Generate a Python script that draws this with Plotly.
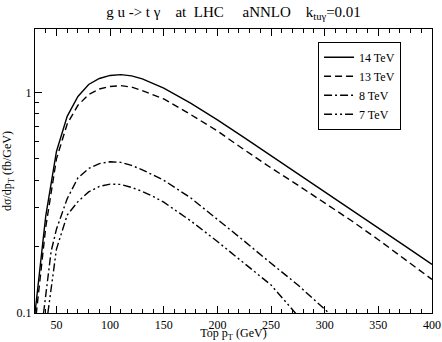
import plotly.graph_objects as go

# top pT (GeV) and d(sigma)/dpT (fb/GeV) for g u -> t gamma, aNNLO, k_tugamma = 0.01
pt_14 = [30, 40, 50, 60, 70, 80, 90, 100, 110, 120, 130, 140, 150, 175, 200, 225, 250, 275, 300, 325, 350, 375, 400]
xs_14 = [0.100, 0.275, 0.54, 0.78, 0.96, 1.087, 1.158, 1.195, 1.205, 1.19, 1.152, 1.10, 1.046, 0.895, 0.752,
         0.624, 0.517, 0.429, 0.356, 0.295, 0.244, 0.201, 0.166]

pt_13 = [30, 40, 50, 60, 70, 80, 90, 100, 110, 120, 130, 140, 150, 175, 200, 225, 250, 275, 300, 325, 350, 375, 400]
xs_13 = [0.088, 0.245, 0.50, 0.72, 0.875, 0.98, 1.037, 1.065, 1.074, 1.058, 1.02, 0.98, 0.935, 0.795, 0.669,
         0.55, 0.455, 0.38, 0.315, 0.262, 0.215, 0.175, 0.142]

pt_8 = [38, 45, 50, 60, 70, 80, 90, 100, 110, 120, 130, 140, 150, 175, 200, 225, 250, 275, 300, 310]
xs_8 = [0.100, 0.19, 0.24, 0.33, 0.41, 0.452, 0.476, 0.485, 0.482, 0.467, 0.446, 0.424, 0.40, 0.333, 0.267,
        0.212, 0.168, 0.134, 0.104, 0.094]

pt_7 = [42, 50, 60, 70, 80, 90, 100, 110, 120, 130, 140, 150, 175, 200, 225, 250, 275]
xs_7 = [0.100, 0.195, 0.278, 0.32, 0.354, 0.375, 0.384, 0.383, 0.371, 0.356, 0.338, 0.318, 0.262, 0.211,
        0.168, 0.134, 0.097]

series = [
	("14 TeV", pt_14, xs_14, "solid"),
	("13 TeV", pt_13, xs_13, "7px,4px"),
	("8 TeV", pt_8, xs_8, "8px,3px,2px,3px"),
	("7 TeV", pt_7, xs_7, "8px,3px,2px,3px,2px,3px"),
]

serif = "Liberation Serif"

fig = go.Figure()

for name, x, y, dash in series:
	fig.add_trace(go.Scatter(
		x=x, y=y, name=name, mode="lines",
		line=dict(color="black", width=1.4, dash=dash),
	))

nb = "\u00a0"
title = ("g u -&gt; t γ" + nb * 4 + "at" + nb * 2 + "LHC" + nb * 5 + "aNNLO" + nb * 4
         + "k<sub>tuγ</sub>=0.01")

fig.update_layout(
	width=442, height=342,
	margin=dict(l=35, r=10, t=29, b=29),
	paper_bgcolor="white", plot_bgcolor="white",
	font=dict(family=serif, size=13, color="black"),
	title=dict(text=title, x=0.5, xref="paper", xanchor="center",
	           y=1 - 12 / 342, yref="container", yanchor="middle", automargin=False,
	           font=dict(family=serif, size=15, color="black")),
	showlegend=True,
	legend=dict(x=0.713, y=0.955, xanchor="left", yanchor="top",
	            bgcolor="white", bordercolor="black", borderwidth=1,
	            font=dict(family=serif, size=12), tracegroupgap=0,
	            itemwidth=30),
)

fig.update_xaxes(
	range=[30, 400], showgrid=False, zeroline=False, automargin=False,
	showline=True, linecolor="black", linewidth=1.2, mirror="ticks",
	ticks="inside", ticklen=7, tickcolor="black", dtick=50, tick0=0,
	minor=dict(ticks="inside", ticklen=4, dtick=10, tick0=0, tickcolor="black", showgrid=False),
	title=dict(text="Top p<sub>T</sub> (GeV)", standoff=1, font=dict(family=serif, size=12)),
	tickfont=dict(family=serif, size=12),
)

fig.update_yaxes(
	type="log", range=[-1, 0.288], showgrid=False, zeroline=False, automargin=False,
	showline=True, linecolor="black", linewidth=1.2, mirror=True,
	ticks="inside", ticklen=7, tickcolor="black",
	tickvals=[0.1, 1], ticktext=["0.1", "1"],
	minor=dict(ticks="inside", ticklen=4, tickcolor="black", showgrid=False,
	           tickvals=[0.2, 0.3, 0.4, 0.5, 0.6, 0.7, 0.8, 0.9]),
	title=dict(text="dσ/dp<sub>T</sub> (fb/GeV)", standoff=4, font=dict(family=serif, size=12)),
	tickfont=dict(family=serif, size=12),
)

# page has a default body margin; drop it so the figure sits at the window's corner
fig.write_html("out.html", config={"displayModeBar": False},
               post_script="document.body.style.margin='0';")
